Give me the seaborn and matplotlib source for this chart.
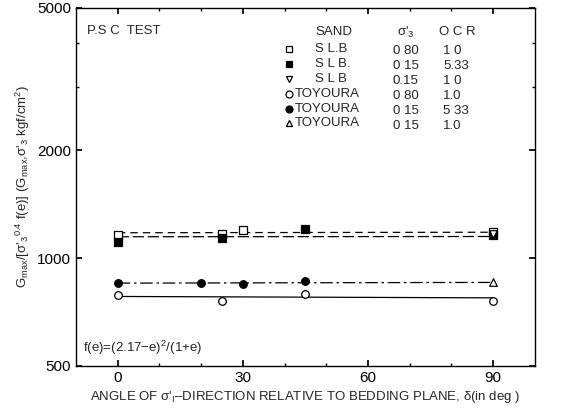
import numpy as np
import pandas as pd
import seaborn as sns
import matplotlib
matplotlib.use("Agg")
import matplotlib.pyplot as plt
from matplotlib.ticker import FixedLocator, NullFormatter, FixedFormatter

sns.set_theme(style="ticks")
plt.rcParams["font.family"] = ["Liberation Sans", "DejaVu Sans"]
plt.rcParams["mathtext.fontset"] = "custom"
plt.rcParams["mathtext.rm"] = "Liberation Sans"
plt.rcParams["mathtext.it"] = "Liberation Sans"

# measured points: angle (deg) and normalised Gmax
slb_080_ang = [0, 25, 30, 90]
slb_080_val = [1160, 1170, 1200, 1186]
slb_015_ocr_ang = [0, 25, 45, 90]
slb_015_ocr_val = [1110, 1139, 1205, 1160]
slb_015_ang = [90]
slb_015_val = [1165]
toy_080_ang = [0, 25, 45, 90]
toy_080_val = [789, 761, 793, 760]
toy_015_ocr_ang = [0, 20, 30, 45]
toy_015_ocr_val = [851, 855, 845, 866]
toy_015_ang = [90]
toy_015_val = [860]

# fitted trend lines
fit_ang = [0, 90]
fit_slb_080 = [1178, 1182]
fit_slb_ocr = [1148, 1150]
fit_toy_ocr = [852, 856]
fit_toy_080 = [782, 775]

sand_names = ["S L.B", "S L B.", "S L B", "TOYOURA", "TOYOURA", "TOYOURA"]
sigma_labels = ["0 80", "0 15", "0.15", "0 80", "0 15", "0 15"]
ocr_labels = ["1 0", "5.33", "1 0", "1.0", "5 33", "1.0"]
legend_markers = [("s", "white"), ("s", "black"), ("v", "white"),
                  ("o", "white"), ("o", "black"), ("^", "white")]

x_ticks = [0, 30, 60, 90]
y_ticks = [500, 1000, 2000, 5000]

fig = plt.figure(figsize=(5.61, 4.16), dpi=100)
ax = fig.add_axes([0.1355, 0.1202, 0.818, 0.8606])

fits = pd.DataFrame({
    "angle": fit_ang * 4,
    "value": fit_slb_080 + fit_slb_ocr + fit_toy_ocr + fit_toy_080,
    "series": ["a"] * 2 + ["b"] * 2 + ["c"] * 2 + ["d"] * 2,
})
line_styles = {"a": (0, (6, 4)), "b": (0, (9, 3)), "c": (0, (10, 3, 2, 3)), "d": "-"}
for key, grp in fits.groupby("series"):
    sns.lineplot(data=grp, x="angle", y="value", ax=ax, color="black",
                 lw=0.9, linestyle=line_styles[key], legend=False)

point_sets = [
    (slb_080_ang, slb_080_val, "s", "white"),
    (slb_015_ocr_ang, slb_015_ocr_val, "s", "black"),
    (slb_015_ang, slb_015_val, "v", "white"),
    (toy_080_ang, toy_080_val, "o", "white"),
    (toy_015_ocr_ang, toy_015_ocr_val, "o", "black"),
    (toy_015_ang, toy_015_val, "^", "white"),
]
for ang, val, mk, fc in point_sets:
    sns.scatterplot(x=ang, y=val, ax=ax, marker=mk, s=30, color=fc,
                    edgecolor="black", linewidth=0.9, zorder=3, legend=False)

ax.set_yscale("log")
ax.set_xlim(-10, 100)
ax.set_ylim(500, 5000)
ax.yaxis.set_major_locator(FixedLocator(y_ticks))
ax.yaxis.set_major_formatter(FixedFormatter([str(v) for v in y_ticks]))
ax.yaxis.set_minor_locator(FixedLocator([3000, 4000]))
ax.yaxis.set_minor_formatter(NullFormatter())
ax.xaxis.set_major_locator(FixedLocator(x_ticks))
ax.xaxis.set_minor_locator(FixedLocator([10, 20, 40, 50, 70, 80]))
ax.tick_params(axis="both", which="both", direction="in", top=True, right=True,
               labelsize=11, colors="black")
ax.tick_params(which="major", length=4)
ax.tick_params(which="minor", length=2.5)
for sp in ax.spines.values():
    sp.set_color("black")
    sp.set_linewidth(1.0)

ax.set_xlabel("ANGLE OF σ'$_{\\rm I}$\u2013DIRECTION RELATIVE TO BEDDING PLANE, δ(in deg )",
              fontsize=9.5, labelpad=3)
ax.set_ylabel("G$_{\\rm max}$/[σ'$_3$$^{\\rm 0.4}$ f(e)] (G$_{\\rm max}$,σ'$_3$ kgf/cm$^2$)",
              fontsize=9.5, labelpad=4)

ax.text(0.025, 0.936, "P.S C  TEST", transform=ax.transAxes, fontsize=9.5, va="center")
ax.text(0.015, 0.025, "f(e)=(2.17\u2212e)$^2$/(1+e)", transform=ax.transAxes,
        fontsize=9.5, va="bottom")

# legend table
mx, nx, tx, sx, ox = 0.464, 0.521, 0.477, 0.69, 0.80
ax.text(nx, 0.932, "SAND", transform=ax.transAxes, fontsize=9.5, va="center")
ax.text(sx + 0.01, 0.932, "σ'$_3$", transform=ax.transAxes, fontsize=9.5, va="center")
ax.text(ox - 0.01, 0.932, "O C R", transform=ax.transAxes, fontsize=9.5, va="center")
row0, dy = 0.885, 0.0415
for i in range(6):
    yy = row0 - i * dy
    mk, fc = legend_markers[i]
    ax.plot([mx], [yy], marker=mk, markersize=5, markerfacecolor=fc,
            markeredgecolor="black", markeredgewidth=0.9, linestyle="none",
            transform=ax.transAxes)
    ax.text(nx if i < 3 else tx, yy, sand_names[i], transform=ax.transAxes,
            fontsize=9.5, va="center")
    ax.text(sx, yy - 0.006, sigma_labels[i], transform=ax.transAxes, fontsize=9.5, va="center")
    ax.text(ox, yy - 0.006, ocr_labels[i], transform=ax.transAxes, fontsize=9.5, va="center")

fig.savefig("out.png", dpi=100, facecolor="white")
